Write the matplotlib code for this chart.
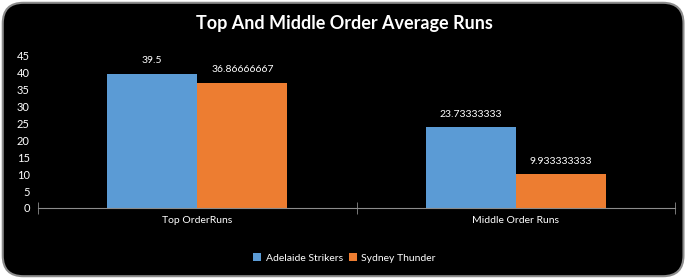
import matplotlib
matplotlib.use("Agg")
import matplotlib.pyplot as plt
import numpy as np
from matplotlib.patches import FancyBboxPatch

plt.rcParams.update({"font.family": ["Lato", "DejaVu Sans"], "font.size": 8})

categories = ["Top OrderRuns", "Middle Order Runs"]
series = ["Adelaide Strikers", "Sydney Thunder"]
strikers = [39.5, 23.73333333]
thunder = [36.86666667, 9.933333333]
label_text = [["39.5", "23.73333333"], ["36.86666667", "9.933333333"]]
colors = ["#5B9BD5", "#ED7D31"]

fig = plt.figure(figsize=(6.89, 2.79), dpi=100)
fig.patch.set_facecolor("white")
box = FancyBboxPatch((0.004, 0.01), 0.988, 0.98, boxstyle="round,pad=0,rounding_size=0.03",
                     transform=fig.transFigure, facecolor="black", edgecolor="#8c8c8c",
                     linewidth=1.5, mutation_aspect=689/279, zorder=-10)
fig.patches.append(box)

ax = fig.add_axes([0.0552, 0.2545, 0.9245, 0.548])
ax.set_facecolor("black")
ax.patch.set_alpha(0)
x = np.arange(len(categories))
w = 0.283
for k, (vals, col) in enumerate(zip([strikers, thunder], colors)):
    pos = x + (k - 0.5) * w
    ax.bar(pos, vals, w, color=col, label=series[k])
    for p, v, t in zip(pos, vals, label_text[k]):
        ax.text(p, v + 2.5, t, ha="center", va="bottom", color="white", fontsize=7.5)

ax.set_xlim(-0.5, 1.5)
ax.set_ylim(0, 45)
ax.set_yticks(np.arange(0, 46, 5))
ax.set_xticks(x)
ax.set_xticklabels(categories)
ax.set_xticks([-0.5, 0.5, 1.5], minor=True)
ax.tick_params(axis="x", which="major", length=0, colors="white", pad=6, labelsize=7.5)
ax.tick_params(axis="x", which="minor", length=8, direction="inout", color="#8c8c8c")
ax.tick_params(axis="y", length=0, colors="white", pad=6, labelsize=8)
for s in ["top", "right", "left"]:
    ax.spines[s].set_visible(False)
ax.spines["bottom"].set_color("#8c8c8c")

fig.text(0.5, 0.915, "Top And Middle Order Average Runs", ha="center", va="center",
         color="white", fontsize=13, fontweight="bold")
fig.legend(loc="center", bbox_to_anchor=(0.5, 0.075), ncol=2, frameon=False,
           labelcolor="white", fontsize=7.5, handlelength=0.8, handleheight=0.8,
           handletextpad=0.4, columnspacing=0.6)

fig.savefig("out.png", dpi=100, facecolor="white")
